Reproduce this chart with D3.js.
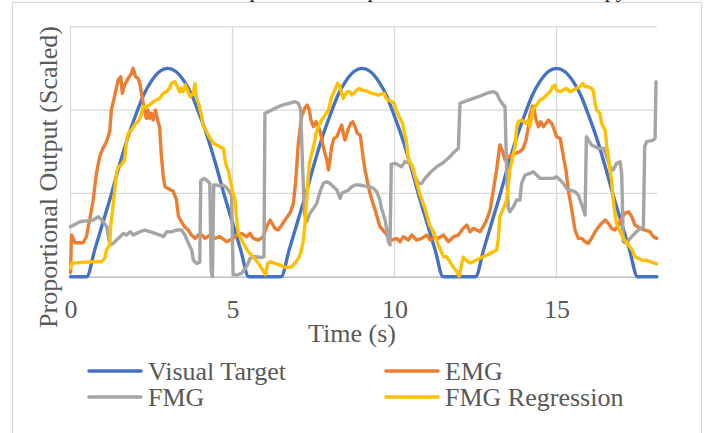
<!DOCTYPE html>
<html><head><meta charset="utf-8">
<script src="https://cdn.jsdelivr.net/npm/d3@7"></script>
<style>html,body{margin:0;padding:0;background:#fff;}svg{display:block;}</style>
</head><body>
<script>
// ---- data (time in s, scaled output) ----
const seriesNames = ["Visual Target", "EMG", "FMG", "FMG Regression"];
const xTicks = [0, 5, 10, 15];
const yGrid = [0.4, 0.8, 1.2];

const targetData = [[0,0],[0.25,0],[0.5,0],[0.75,0.13],[1,0.26],[1.25,0.39],[1.5,0.53],[1.75,0.66],[2,0.77],[2.25,0.87],[2.5,0.94],[2.75,0.985],[3,1],[3.25,0.985],[3.5,0.94],[3.75,0.87],[4,0.77],[4.25,0.66],[4.5,0.53],[4.75,0.39],[5,0.26],[5.25,0.13],[5.5,0],[5.75,0],[6,0],
[6.25,0],[6.5,0],[6.75,0.13],[7,0.26],[7.25,0.39],[7.5,0.53],[7.75,0.66],[8,0.77],[8.25,0.87],[8.5,0.94],[8.75,0.985],[9,1],[9.25,0.985],[9.5,0.94],[9.75,0.87],[10,0.77],[10.25,0.66],[10.5,0.53],[10.75,0.39],[11,0.26],[11.25,0.13],[11.5,0],[11.75,0],[12,0],
[12.25,0],[12.5,0],[12.75,0.13],[13,0.26],[13.25,0.39],[13.5,0.53],[13.75,0.66],[14,0.77],[14.25,0.87],[14.5,0.94],[14.75,0.985],[15,1],[15.25,0.985],[15.5,0.94],[15.75,0.87],[16,0.77],[16.25,0.66],[16.5,0.53],[16.75,0.39],[17,0.26],[17.25,0.13],[17.5,0],[17.75,0],[18,0],[18.1,0]];

const emgData = [[0,0.02],[0.03,0.2],[0.15,0.163],[0.39,0.163],[0.49,0.192],[0.59,0.272],[0.7,0.368],[0.8,0.496],[0.9,0.576],[1.0,0.616],[1.11,0.648],[1.21,0.696],[1.26,0.8],[1.36,0.864],[1.47,0.944],[1.55,0.96],[1.6,0.88],[1.67,0.92],[1.78,0.952],[1.88,0.976],[1.93,1.0],[2.01,0.96],[2.08,0.952],[2.14,0.928],[2.19,0.88],[2.27,0.808],[2.34,0.76],[2.39,0.8],[2.44,0.76],[2.5,0.784],[2.55,0.752],[2.62,0.8],[2.7,0.744],[2.75,0.72],[2.8,0.592],[2.86,0.48],[2.92,0.432],[3.0,0.424],[3.17,0.41],[3.27,0.37],[3.33,0.29],[3.42,0.264],[3.52,0.24],[3.63,0.224],[3.73,0.2],[3.85,0.184],[3.95,0.2],[4.05,0.2],[4.15,0.184],[4.31,0.2],[4.46,0.184],[4.61,0.192],[4.82,0.168],[5.02,0.184],[5.13,0.2],[5.28,0.208],[5.44,0.192],[5.54,0.208],[5.64,0.184],[5.8,0.176],[5.95,0.192],[6.05,0.24],[6.16,0.272],[6.31,0.232],[6.41,0.224],[6.52,0.248],[6.62,0.272],[6.77,0.304],[6.88,0.352],[6.95,0.46],[7.03,0.64],[7.13,0.768],[7.24,0.813],[7.31,0.824],[7.37,0.8],[7.42,0.752],[7.5,0.72],[7.58,0.744],[7.65,0.72],[7.72,0.688],[7.8,0.624],[7.91,0.56],[7.96,0.512],[8.0,0.55],[8.06,0.624],[8.13,0.664],[8.22,0.672],[8.3,0.704],[8.37,0.728],[8.42,0.688],[8.47,0.656],[8.58,0.712],[8.65,0.736],[8.71,0.744],[8.78,0.72],[8.85,0.688],[8.94,0.68],[8.99,0.624],[9.04,0.56],[9.09,0.512],[9.24,0.4],[9.4,0.32],[9.55,0.24],[9.68,0.216],[9.81,0.192],[9.91,0.176],[10.07,0.184],[10.17,0.168],[10.27,0.192],[10.43,0.176],[10.53,0.2],[10.68,0.176],[10.84,0.184],[10.99,0.2],[11.1,0.176],[11.25,0.192],[11.35,0.184],[11.51,0.2],[11.66,0.168],[11.82,0.192],[11.97,0.2],[12.12,0.232],[12.23,0.248],[12.33,0.216],[12.43,0.232],[12.53,0.224],[12.64,0.216],[12.74,0.24],[12.84,0.272],[12.95,0.32],[13.05,0.416],[13.15,0.512],[13.25,0.632],[13.34,0.6],[13.41,0.56],[13.56,0.58],[13.72,0.592],[13.87,0.6],[13.97,0.616],[14.06,0.656],[14.13,0.72],[14.18,0.776],[14.26,0.819],[14.31,0.8],[14.37,0.752],[14.44,0.72],[14.51,0.744],[14.59,0.72],[14.67,0.736],[14.75,0.752],[14.85,0.736],[14.95,0.696],[15.0,0.672],[15.11,0.664],[15.16,0.624],[15.23,0.56],[15.29,0.512],[15.36,0.416],[15.47,0.32],[15.57,0.224],[15.67,0.184],[15.78,0.184],[15.88,0.168],[15.98,0.16],[16.08,0.184],[16.19,0.216],[16.34,0.248],[16.5,0.272],[16.6,0.256],[16.7,0.232],[16.8,0.224],[16.91,0.248],[17.01,0.28],[17.11,0.304],[17.22,0.312],[17.32,0.288],[17.42,0.248],[17.58,0.232],[17.73,0.224],[17.88,0.216],[17.99,0.192],[18.09,0.184]];

const fmgData = [[0,0.24],[0.29,0.264],[0.7,0.272],[0.86,0.288],[0.91,0.28],[1.01,0.264],[1.12,0.24],[1.17,0.192],[1.22,0.152],[1.32,0.16],[1.42,0.176],[1.53,0.192],[1.63,0.208],[1.73,0.2],[1.84,0.216],[1.94,0.2],[2.04,0.208],[2.14,0.216],[2.3,0.224],[2.45,0.216],[2.61,0.208],[2.76,0.2],[2.87,0.192],[2.97,0.216],[3.12,0.216],[3.28,0.224],[3.43,0.224],[3.53,0.2],[3.64,0.16],[3.74,0.128],[3.79,0.08],[3.89,0.064],[3.99,0.07],[4.02,0.46],[4.12,0.472],[4.2,0.464],[4.3,0.448],[4.34,0.03],[4.38,0.0],[4.42,0.44],[4.5,0.44],[4.6,0.436],[4.7,0.44],[4.8,0.43],[4.9,0.41],[4.97,0.392],[5.02,0.01],[5.13,0.008],[5.28,0.016],[5.44,0.05],[5.54,0.088],[5.7,0.096],[5.9,0.092],[5.97,0.096],[6.0,0.784],[6.21,0.8],[6.41,0.816],[6.67,0.829],[6.93,0.84],[7.03,0.832],[7.1,0.808],[7.17,0.5],[7.22,0.3],[7.29,0.264],[7.39,0.304],[7.5,0.328],[7.6,0.352],[7.7,0.408],[7.8,0.448],[7.91,0.456],[8.01,0.448],[8.11,0.432],[8.22,0.416],[8.32,0.376],[8.37,0.4],[8.47,0.408],[8.58,0.416],[8.68,0.432],[8.78,0.44],[8.93,0.44],[9.09,0.435],[9.24,0.432],[9.35,0.424],[9.45,0.408],[9.55,0.368],[9.6,0.328],[9.66,0.296],[9.71,0.272],[9.76,0.224],[9.81,0.168],[9.86,0.152],[9.9,0.54],[10.02,0.544],[10.12,0.536],[10.22,0.528],[10.32,0.552],[10.48,0.544],[10.53,0.528],[10.63,0.48],[10.74,0.448],[10.84,0.448],[10.94,0.472],[11.1,0.5],[11.3,0.528],[11.51,0.548],[11.71,0.576],[11.85,0.6],[11.97,0.616],[12.02,0.832],[12.28,0.848],[12.59,0.864],[12.89,0.883],[13.05,0.888],[13.15,0.88],[13.25,0.848],[13.36,0.824],[13.41,0.816],[13.46,0.5],[13.51,0.328],[13.56,0.312],[13.67,0.336],[13.77,0.368],[13.87,0.368],[13.92,0.448],[14.03,0.488],[14.18,0.496],[14.28,0.504],[14.39,0.488],[14.49,0.472],[14.69,0.472],[14.9,0.472],[15.0,0.48],[15.11,0.464],[15.21,0.448],[15.31,0.424],[15.42,0.416],[15.57,0.408],[15.67,0.392],[15.78,0.344],[15.88,0.296],[15.92,0.672],[16.08,0.632],[16.29,0.616],[16.46,0.616],[16.55,0.575],[16.65,0.528],[16.75,0.512],[16.85,0.544],[16.96,0.552],[17.01,0.496],[17.06,0.168],[17.16,0.16],[17.27,0.184],[17.37,0.2],[17.47,0.216],[17.57,0.232],[17.68,0.24],[17.72,0.624],[17.78,0.648],[17.99,0.656],[18.04,0.664],[18.07,0.936]];

const regData = [[0,0.04],[0.03,0.064],[0.3,0.068],[0.7,0.072],[0.95,0.072],[1.06,0.088],[1.11,0.128],[1.21,0.152],[1.24,0.24],[1.31,0.336],[1.42,0.496],[1.47,0.528],[1.57,0.536],[1.67,0.56],[1.72,0.64],[1.78,0.688],[1.88,0.704],[1.98,0.728],[2.08,0.744],[2.14,0.76],[2.19,0.784],[2.24,0.816],[2.34,0.816],[2.44,0.824],[2.55,0.84],[2.65,0.848],[2.75,0.856],[2.86,0.88],[2.96,0.888],[3.06,0.904],[3.11,0.928],[3.22,0.936],[3.3,0.912],[3.37,0.888],[3.42,0.904],[3.47,0.888],[3.54,0.92],[3.61,0.896],[3.69,0.864],[3.79,0.88],[3.84,0.928],[3.89,0.856],[3.95,0.832],[4.0,0.8],[4.05,0.768],[4.1,0.72],[4.2,0.696],[4.31,0.664],[4.41,0.64],[4.51,0.632],[4.61,0.624],[4.72,0.616],[4.77,0.56],[4.82,0.528],[4.87,0.512],[4.92,0.47],[5.0,0.41],[5.08,0.368],[5.13,0.272],[5.18,0.208],[5.28,0.176],[5.39,0.144],[5.49,0.12],[5.59,0.104],[5.69,0.085],[5.8,0.064],[5.9,0.04],[6.02,0.01],[6.08,0.064],[6.16,0.072],[6.31,0.064],[6.47,0.056],[6.57,0.048],[6.67,0.044],[6.83,0.048],[6.93,0.066],[7.03,0.088],[7.1,0.112],[7.19,0.176],[7.24,0.26],[7.31,0.42],[7.37,0.544],[7.44,0.59],[7.5,0.624],[7.58,0.688],[7.65,0.72],[7.75,0.752],[7.86,0.776],[7.96,0.8],[8.01,0.832],[8.06,0.864],[8.11,0.88],[8.2,0.912],[8.24,0.928],[8.3,0.92],[8.37,0.88],[8.42,0.856],[8.47,0.872],[8.54,0.888],[8.61,0.888],[8.68,0.872],[8.75,0.88],[8.83,0.896],[8.91,0.904],[8.99,0.896],[9.09,0.893],[9.19,0.888],[9.3,0.88],[9.4,0.877],[9.5,0.872],[9.6,0.877],[9.68,0.88],[9.74,0.856],[9.81,0.848],[9.91,0.84],[9.99,0.832],[10.05,0.8],[10.12,0.776],[10.19,0.752],[10.25,0.736],[10.29,0.696],[10.36,0.656],[10.4,0.592],[10.46,0.55],[10.56,0.53],[10.66,0.464],[10.79,0.392],[10.94,0.328],[11.08,0.248],[11.22,0.208],[11.35,0.152],[11.51,0.096],[11.61,0.096],[11.77,0.056],[11.92,0.024],[12.0,0.003],[12.07,0.06],[12.12,0.094],[12.23,0.076],[12.33,0.066],[12.53,0.08],[12.74,0.096],[12.95,0.112],[13.15,0.128],[13.2,0.176],[13.25,0.288],[13.36,0.328],[13.46,0.368],[13.51,0.432],[13.56,0.512],[13.67,0.592],[13.72,0.624],[13.77,0.72],[13.82,0.744],[13.92,0.752],[14.03,0.736],[14.13,0.752],[14.18,0.72],[14.23,0.768],[14.28,0.808],[14.39,0.824],[14.49,0.848],[14.59,0.856],[14.69,0.872],[14.8,0.888],[14.88,0.912],[14.95,0.92],[15.0,0.896],[15.11,0.888],[15.21,0.896],[15.31,0.904],[15.42,0.888],[15.52,0.896],[15.62,0.904],[15.72,0.912],[15.81,0.928],[15.88,0.912],[15.98,0.912],[16.08,0.904],[16.14,0.888],[16.19,0.832],[16.24,0.8],[16.34,0.784],[16.39,0.736],[16.44,0.72],[16.5,0.704],[16.55,0.624],[16.6,0.576],[16.65,0.512],[16.7,0.464],[16.75,0.368],[16.8,0.304],[16.85,0.256],[16.91,0.236],[17.01,0.2],[17.11,0.175],[17.21,0.152],[17.32,0.132],[17.42,0.096],[17.52,0.088],[17.63,0.08],[17.78,0.078],[17.88,0.072],[18.09,0.062]];

const seriesColors = ["#4472C4", "#ED7D31", "#A5A5A5", "#FFC000"];

// ---- drawing ----
const W = 709, H = 433;
const FONT = "'Liberation Serif','Times New Roman',serif";
const TXT = "#595959";
const svg = d3.select("body").append("svg").attr("width", W).attr("height", H);

svg.append("rect").attr("x", 0).attr("y", 0).attr("width", W).attr("height", H).attr("fill", "#fff");
svg.append("rect").attr("x", 12.5).attr("y", 2.5).attr("width", 689).attr("height", 460)
  .attr("fill", "none").attr("stroke", "#d9d9d9").attr("stroke-width", 1.2);

// chart title, cut off at the top edge (only descenders visible in the reference)
svg.append("text").attr("x", 219).attr("y", -3).attr("text-anchor", "start")
  .attr("font-family", FONT).attr("font-size", 22).attr("fill", "#222")
  .text("Proportional Output in Rehabilitation Therapy");

const x = d3.scaleLinear().domain([0, 18.1]).range([70.5, 657]);
const y = d3.scaleLinear().domain([0, 1.2]).range([276.7, 26.7]);

// gridlines
svg.append("g").selectAll("line").data(yGrid).join("line")
  .attr("x1", x(0)).attr("x2", x(18.1)).attr("y1", d => y(d)).attr("y2", d => y(d))
  .attr("stroke", "#d9d9d9").attr("stroke-width", 1.3);
svg.append("g").selectAll("line").data(xTicks).join("line")
  .attr("x1", d => x(d)).attr("x2", d => x(d)).attr("y1", y(0)).attr("y2", y(1.2))
  .attr("stroke", "#d9d9d9").attr("stroke-width", 1.3);

// x axis
const xAxis = svg.append("g").attr("transform", `translate(0,${y(0)})`)
  .call(d3.axisBottom(x).tickValues(xTicks).tickSize(0).tickPadding(23).tickFormat(d3.format("d")));
xAxis.select(".domain").attr("stroke", "#bfbfbf").attr("stroke-width", 1.5);
xAxis.selectAll("text").attr("font-family", FONT).attr("font-size", 26).attr("fill", TXT);

// axis titles
svg.append("text").attr("x", 352).attr("y", 342).attr("text-anchor", "middle")
  .attr("font-family", FONT).attr("font-size", 26).attr("fill", TXT).text("Time (s)");
svg.append("text").attr("transform", "translate(57,177) rotate(-90)").attr("text-anchor", "middle")
  .attr("font-family", FONT).attr("font-size", 26).attr("fill", TXT).text("Proportional Output (Scaled)");

// series
const allData = [targetData, emgData, fmgData, regData];
const line = d3.line().x(d => x(d[0])).y(d => y(d[1]));
allData.forEach((data, i) => {
  svg.append("path").datum(data)
    .attr("d", line.curve(i === 0 ? d3.curveMonotoneX : d3.curveLinear))
    .attr("fill", "none").attr("stroke", seriesColors[i]).attr("stroke-width", 3.4)
    .attr("stroke-linejoin", "round").attr("stroke-linecap", "round");
});

// legend
const legendPos = [[89, 371], [386, 371], [89, 397], [386, 397]];
const lg = svg.append("g").selectAll("g").data(seriesNames).join("g")
  .attr("transform", (d, i) => `translate(${legendPos[i][0]},${legendPos[i][1]})`);
lg.append("line").attr("x1", 0).attr("x2", 52).attr("y1", 0).attr("y2", 0)
  .attr("stroke", (d, i) => seriesColors[i]).attr("stroke-width", 3.5).attr("stroke-linecap", "round");
lg.append("text").attr("x", 59).attr("y", 9).attr("font-family", FONT).attr("font-size", 26)
  .attr("fill", TXT).text(d => d);
</script>
</body></html>
